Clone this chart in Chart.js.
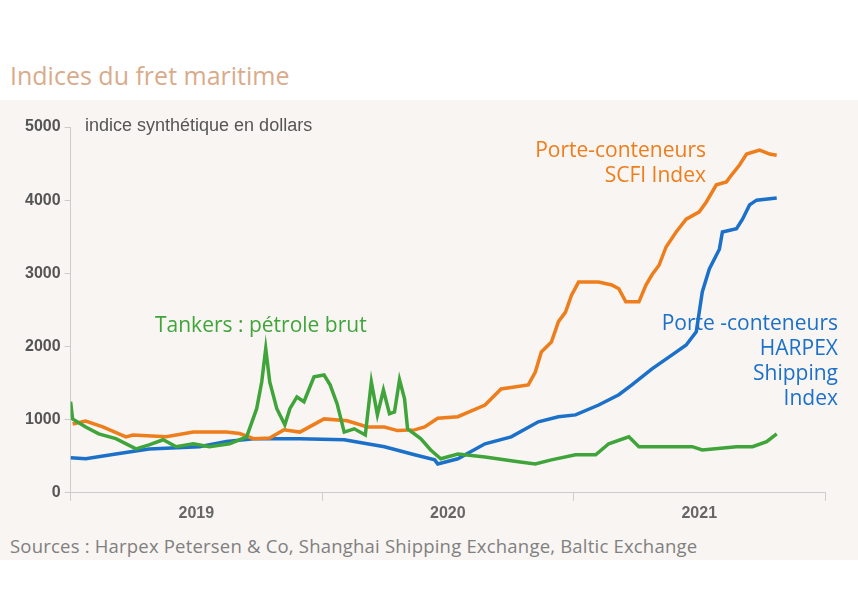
<!DOCTYPE html>
<html>
<head>
<meta charset="utf-8">
<script src="https://cdn.jsdelivr.net/npm/chart.js@4/dist/chart.umd.min.js"></script>
<style>
    body { margin: 0; background: #fff; font-family: "Open Sans", "Noto Sans", sans-serif; }
    #wrap { position: relative; width: 858px; height: 600px; }
    #band { position: absolute; left: 0; top: 100px; width: 858px; height: 460px; background: #f9f5f2; }
    #title { position: absolute; left: 10px; top: 58px; font-size: 25px; color: #d9ab8b; }
    #src { position: absolute; left: 10px; top: 533px; font-size: 18.5px; color: #808080; letter-spacing: 0.2px; }
    canvas { position: absolute; left: 0; top: 0; }
</style>
</head>
<body>
<div id="wrap">
    <div id="band"></div>
    <div id="title">Indices du fret maritime</div>
    <div id="src">Sources : Harpex Petersen &amp; Co, Shanghai Shipping Exchange, Baltic Exchange</div>
    <canvas id="chart" width="858" height="600"></canvas>
</div>
<script>
'use strict';

// x in decimal years
const scfiDates = [2018.508, 2018.56, 2018.628, 2018.72, 2018.748, 2018.88, 2018.988, 2019.12, 2019.172, 2019.228, 2019.292, 2019.348, 2019.412, 2019.508, 2019.6, 2019.68, 2019.748, 2019.8, 2019.868, 2019.908, 2019.96, 2020.04, 2020.08, 2020.148, 2020.212, 2020.32, 2020.348, 2020.372, 2020.412, 2020.44, 2020.468, 2020.492, 2020.52, 2020.6, 2020.652, 2020.68, 2020.708, 2020.76, 2020.788, 2020.812, 2020.84, 2020.868, 2020.908, 2020.948, 2021.0, 2021.028, 2021.068, 2021.108, 2021.132, 2021.16, 2021.188, 2021.24, 2021.28, 2021.308];
const scfiValues = [940, 980, 900, 765, 790, 765, 830, 830, 810, 740, 750, 860, 830, 1010, 985, 900, 900, 850, 860, 900, 1020, 1040, 1100, 1200, 1420, 1475, 1650, 1925, 2060, 2340, 2470, 2700, 2880, 2880, 2840, 2790, 2610, 2610, 2840, 2980, 3110, 3360, 3565, 3740, 3840, 3975, 4210, 4250, 4360, 4480, 4630, 4685, 4630, 4615];

const harpexDates = [2018.5, 2018.56, 2018.68, 2018.812, 2019.012, 2019.12, 2019.228, 2019.412, 2019.588, 2019.748, 2019.868, 2019.948, 2019.96, 2020.04, 2020.148, 2020.252, 2020.36, 2020.44, 2020.508, 2020.6, 2020.68, 2020.732, 2020.812, 2020.892, 2020.948, 2020.988, 2021.0, 2021.012, 2021.04, 2021.08, 2021.092, 2021.148, 2021.172, 2021.2, 2021.228, 2021.308];
const harpexValues = [480, 465, 530, 600, 630, 700, 740, 740, 725, 630, 520, 450, 395, 465, 670, 765, 970, 1040, 1065, 1200, 1340, 1475, 1695, 1885, 2020, 2200, 2470, 2745, 3060, 3330, 3565, 3610, 3740, 3935, 4000, 4030];

const tankerDates = [2018.5, 2018.508, 2018.56, 2018.612, 2018.68, 2018.76, 2018.812, 2018.868, 2018.92, 2018.988, 2019.052, 2019.132, 2019.2, 2019.24, 2019.26, 2019.276, 2019.292, 2019.32, 2019.352, 2019.372, 2019.4, 2019.428, 2019.468, 2019.508, 2019.532, 2019.56, 2019.588, 2019.628, 2019.672, 2019.696, 2019.72, 2019.744, 2019.768, 2019.788, 2019.808, 2019.828, 2019.84, 2019.892, 2019.932, 2019.972, 2020.04, 2020.148, 2020.28, 2020.348, 2020.412, 2020.508, 2020.588, 2020.64, 2020.72, 2020.76, 2020.88, 2020.972, 2021.012, 2021.148, 2021.212, 2021.268, 2021.308];
const tankerValues = [1245, 1010, 900, 805, 740, 600, 655, 725, 630, 670, 630, 670, 765, 1150, 1515, 1970, 1515, 1150, 930, 1150, 1310, 1245, 1585, 1610, 1475, 1215, 830, 875, 790, 1515, 1065, 1405, 1080, 1105, 1545, 1285, 875, 740, 585, 465, 530, 490, 425, 395, 450, 520, 520, 670, 765, 630, 630, 630, 585, 630, 630, 700, 805];

const yearLabels = [2019, 2020, 2021];
const axisTicks = [2018.5, 2019, 2019.5, 2020, 2020.5, 2021, 2021.5];

const pts = (xs, ys) => xs.map((x, i) => ({ x: x, y: ys[i] }));

const seriesLabels = {
    id: 'seriesLabels',
    afterDatasetsDraw(chart) {
        const ctx = chart.ctx;
        ctx.save();
        ctx.font = '21px "Open Sans", "Noto Sans", sans-serif';
        ctx.textBaseline = 'middle';
        ctx.textAlign = 'right';
        ctx.fillStyle = '#ee7d1c';
        ctx.fillText('Porte-conteneurs', 706, 151);
        ctx.fillText('SCFI Index', 706, 176);
        ctx.fillStyle = '#1b70c9';
        ctx.fillText('Porte -conteneurs', 838, 324);
        ctx.fillText('HARPEX', 838, 349);
        ctx.fillText('Shipping', 838, 374);
        ctx.fillText('Index', 838, 399);
        ctx.textAlign = 'left';
        ctx.fillStyle = '#3fa53b';
        ctx.fillText('Tankers : pétrole brut', 155, 326);
        ctx.font = '18px "Liberation Sans", Arial, sans-serif';
        ctx.fillStyle = '#555';
        ctx.fillText('indice synthétique en dollars', 85, 126);
        ctx.restore();
    }
};

const line = (data, color) => ({
    data: data,
    borderColor: color,
    borderWidth: 3.5,
    pointRadius: 0,
    tension: 0,
    fill: false
});

new Chart(document.getElementById('chart'), {
    type: 'line',
    data: {
        datasets: [
            line(pts(tankerDates, tankerValues), '#3fa53b'),
            line(pts(scfiDates, scfiValues), '#ee7d1c'),
            line(pts(harpexDates, harpexValues), '#1b70c9')
        ]
    },
    plugins: [seriesLabels],
    options: {
        responsive: false,
        animation: false,
        layout: { padding: { top: 127, left: 21, right: 33, bottom: 74 } },
        plugins: { legend: { display: false }, tooltip: { enabled: false } },
        scales: {
            x: {
                type: 'linear',
                min: 2018.5,
                max: 2021.5,
                afterBuildTicks: axis => { axis.ticks = axisTicks.map(v => ({ value: v })); },
                ticks: {
                    autoSkip: false,
                    maxRotation: 0,
                    color: '#666',
                    font: { size: 16, weight: 'bold', family: '"Liberation Sans", Arial' },
                    callback: v => yearLabels.includes(v) ? String(v) : ''
                },
                grid: {
                    drawOnChartArea: false,
                    tickLength: 8,
                    color: c => (c.tick && Number.isInteger(c.tick.value)) ? 'rgba(0,0,0,0)' : '#ccc'
                },
                border: { color: '#ccc' }
            },
            y: {
                min: 0,
                max: 5000,
                ticks: {
                    stepSize: 1000,
                    color: '#555',
                    padding: 4,
                    font: { size: 16, weight: 'bold', family: '"Liberation Sans", Arial' },
                    callback: v => String(v)
                },
                grid: { drawOnChartArea: false, tickLength: 6, color: '#ccc' },
                border: { color: '#ccc' }
            }
        }
    }
});
</script>
</body>
</html>
